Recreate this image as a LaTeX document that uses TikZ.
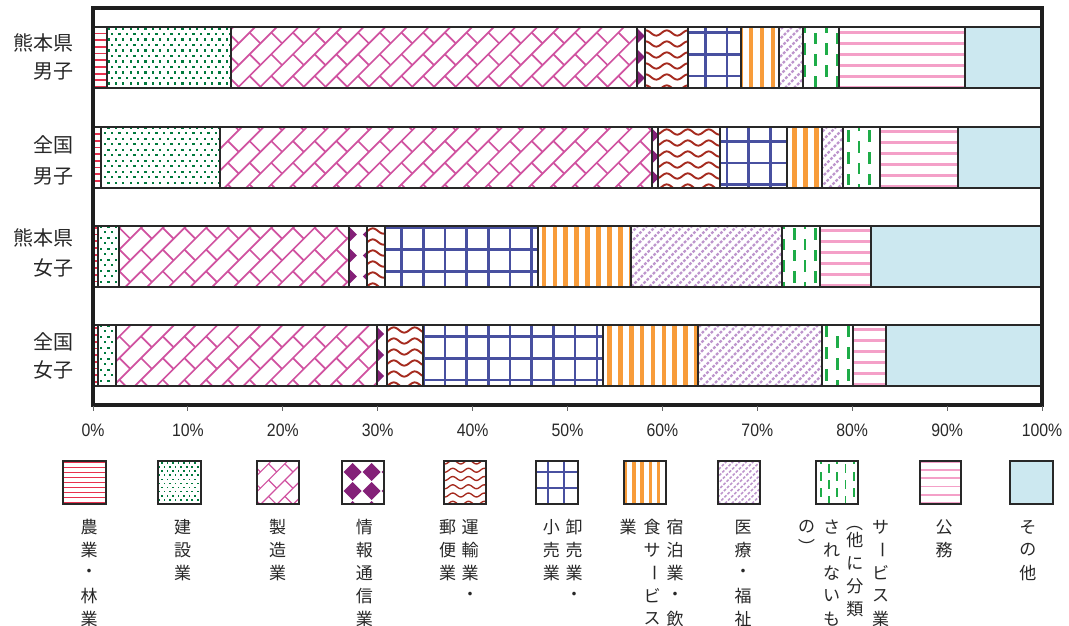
\documentclass[tikz,border=0pt]{standalone}
\usepackage{fontspec}
\usepackage{graphicx}
\newfontfamily\jp{Noto Sans CJK JP}
\newfontfamily\axf{Liberation Sans}
\definecolor{cA}{RGB}{232,48,78}
\definecolor{cB}{RGB}{0,122,61}
\definecolor{cC}{RGB}{208,82,160}
\definecolor{cD}{RGB}{132,32,120}
\definecolor{cE}{RGB}{165,42,30}
\definecolor{cF}{RGB}{72,80,160}
\definecolor{cG}{RGB}{248,156,58}
\definecolor{cH}{RGB}{190,150,205}
\definecolor{cI}{RGB}{30,172,72}
\definecolor{cJ}{RGB}{244,160,200}
\definecolor{cK}{RGB}{204,232,240}
\definecolor{edgec}{RGB}{40,40,40}
\definecolor{framec}{RGB}{30,30,30}
\definecolor{txtc}{RGB}{40,40,40}
\tikzset{
 legtxt/.style={inner sep=0pt, text=txtc, font=\fontsize{17}{17}\selectfont\jp},
 ylab/.style={inner sep=0pt, anchor=east, text=txtc, font=\fontsize{20}{20}\selectfont\jp},
 axlab/.style={inner sep=0pt, text=txtc, font=\fontsize{18}{18}\selectfont\axf},
 segedge/.style={draw=edgec, line width=2pt},
 tickline/.style={draw=black!60, line width=1pt},
 frameline/.style={draw=framec, line width=4pt},
}
\def\pp{1}\def\pw{1}
\def\dphx{0}\def\dphy{9}\def\dP{21}\def\dr{7.5}
% pattern macros: #1 x1, #2 x2, #3 y1, #4 y2
\newcommand\patA[4]{%
 \pgfmathsetmacro\zper{6.7*\pp}\pgfmathsetmacro\zlw{1.8*\pw}%
 \pgfmathtruncatemacro\kA{floor(#3/\zper)}\pgfmathtruncatemacro\kB{ceil(#4/\zper)}%
 \foreach \k in {\kA,...,\kB}{\draw[cA,line width=\zlw pt] (#1,\k*\zper) -- (#2,\k*\zper);}}
\newcommand\patB[4]{%
 \pgfmathsetmacro\zv{5.5*\pp}\pgfmathsetmacro\zh{7.4*\pp}\pgfmathsetmacro\zd{2.3*\pw}%
 \pgfmathtruncatemacro\kA{floor(#3/\zv)-1}\pgfmathtruncatemacro\kB{ceil(#4/\zv)}%
 \pgfmathtruncatemacro\mA{floor(#1/\zh)-1}\pgfmathtruncatemacro\mB{ceil(#2/\zh)}%
 \foreach \k in {\kA,...,\kB}{\foreach \m in {\mA,...,\mB}{%
 \fill[cB] ({\m*\zh+mod(\k,2)*\zh/2},{\k*\zv}) rectangle ++(\zd,\zd);}}}
\newcommand\patC[4]{%
 \pgfmathsetmacro\zT{21.7*\pp}\pgfmathsetmacro\zlw{1.7*\pw}%
 \pgfmathtruncatemacro\kA{floor((#1+#3)/\zT)}\pgfmathtruncatemacro\kB{ceil((#2+#4)/\zT)}%
 \foreach \q in {\kA,...,\kB}{\draw[cC,line width=\zlw pt] ({\q*\zT-#4},#4) -- ({\q*\zT-#3},#3);}%
 \pgfmathtruncatemacro\iA{floor(#1/\zT)-1}\pgfmathtruncatemacro\iB{ceil(#2/\zT)}%
 \pgfmathtruncatemacro\jA{floor(#3/\zT)-1}\pgfmathtruncatemacro\jB{ceil(#4/\zT)}%
 \foreach \i in {\iA,...,\iB}{\foreach \j in {\jA,...,\jB}{%
 \draw[cC,line width=\zlw pt] ({(\i+0.5)*\zT},{(\j+0.5)*\zT}) -- ({(\i+1)*\zT},{(\j+1)*\zT});}}}
\newcommand\patD[4]{%
 \foreach \i in {-1,...,3}{\foreach \j in {-1,...,4}{%
 \fill[cD] ({#1+\dphx+\i*\dP-\dr},{#3+\dphy+\j*\dP}) -- ++(\dr,-\dr) -- ++(\dr,\dr) -- ++(-\dr,\dr) -- cycle;}}}
\newcommand\patE[4]{%
 \pgfmathsetmacro\zP{11*\pp}\pgfmathsetmacro\zL{21*\pp}\pgfmathsetmacro\zAm{2.6*\pp}\pgfmathsetmacro\zlw{1.9*\pw}%
 \pgfmathtruncatemacro\kA{floor(#3/\zP)-1}\pgfmathtruncatemacro\kB{ceil(#4/\zP)+1}%
 \pgfmathtruncatemacro\ns{max(8,(#2-#1))}%
 \foreach \k in {\kA,...,\kB}{\draw[cE,line width=\zlw pt] plot[domain=#1:#2,samples=\ns] (\x,{\k*\zP+\zAm*sin(mod(\x,\zL)*360/\zL)});}}
\newcommand\patF[4]{%
 \pgfmathsetmacro\zP{21.7*\pp}\pgfmathsetmacro\zlw{2.6*\pw}%
 \pgfmathtruncatemacro\kA{floor((#1-401.5)/\zP)}\pgfmathtruncatemacro\kB{ceil((#2-401.5)/\zP)}%
 \foreach \k in {\kA,...,\kB}{\draw[cF,line width=\zlw pt] ({401.5+\k*\zP},#3) -- ({401.5+\k*\zP},#4);}%
 \pgfmathtruncatemacro\kA{floor((#3-32.7)/\zP)}\pgfmathtruncatemacro\kB{ceil((#4-32.7)/\zP)}%
 \foreach \k in {\kA,...,\kB}{\draw[cF,line width=\zlw pt] (#1,{32.7+\k*\zP}) -- (#2,{32.7+\k*\zP});}}
\newcommand\patG[4]{%
 \pgfmathsetmacro\zP{10.9*\pp}\pgfmathsetmacro\zlw{4.7*\pw}%
 \pgfmathtruncatemacro\kA{floor((#1-544)/\zP)-1}\pgfmathtruncatemacro\kB{ceil((#2-544)/\zP)+1}%
 \foreach \k in {\kA,...,\kB}{\draw[cG,line width=\zlw pt] ({544+\k*\zP},#3) -- ({544+\k*\zP},#4);}}
\newcommand\patH[4]{%
 \pgfmathsetmacro\zP{9*\pp}\pgfmathsetmacro\zlw{2.2*\pw}%
 \pgfmathtruncatemacro\kA{floor((#1+#3)/\zP)-1}\pgfmathtruncatemacro\kB{ceil((#2+#4)/\zP)+1}%
 \foreach \k in {\kA,...,\kB}{\draw[cH,line width=\zlw pt,dash pattern=on 2.8pt off 1.6pt] ({\k*\zP-#4},#4) -- ({\k*\zP-#3},#3);}}
\newcommand\patI[4]{%
 \pgfmathsetmacro\zS{10.8*\pp}\pgfmathsetmacro\zQ{21.7*\pp}\pgfmathsetmacro\zD{11.7*\pp}\pgfmathsetmacro\zw{2.8*\pw}%
 \pgfmathtruncatemacro\kA{floor((#1-805)/\zS)-1}\pgfmathtruncatemacro\kB{ceil((#2-805)/\zS)+1}%
 \pgfmathtruncatemacro\jA{floor(#3/\zQ)-1}\pgfmathtruncatemacro\jB{ceil(#4/\zQ)+1}%
 \foreach \k in {\kA,...,\kB}{\foreach \j in {\jA,...,\jB}{%
 \fill[cI] ({805+\k*\zS-\zw/2},{\j*\zQ+mod(\k,2)*\zQ/2}) rectangle ++(\zw,\zD);}}}
\newcommand\patJ[4]{%
 \pgfmathsetmacro\zP{11*\pp}\pgfmathsetmacro\zlw{2.7*\pw}%
 \pgfmathtruncatemacro\kA{floor((#3-32.7)/\zP)}\pgfmathtruncatemacro\kB{ceil((#4-32.7)/\zP)}%
 \foreach \k in {\kA,...,\kB}{\draw[cJ,line width=\zlw pt] (#1,{32.7+\k*\zP}) -- (#2,{32.7+\k*\zP});}}
\newcommand\patK[4]{\fill[cK] (#1,#3) rectangle (#2,#4);}
\newcommand\segm[5]{%
 \begin{scope}\clip (#1,#3) rectangle (#2,#4);\csname pat#5\endcsname{#1}{#2}{#3}{#4}\end{scope}%
 \draw[segedge] (#1,#3) rectangle (#2,#4);}
\newcommand\vcol[4]{%
 \foreach \ch [count=\n from 0] in {#4}{\node[legtxt] (#1-\n) at (#2,{#3+23*\n}) {\ch};}}
\newcommand\vbar{\rotatebox[origin=c]{-90}{ー}}
\begin{document}
\begin{tikzpicture}[x=1pt,y=-1pt]
\useasboundingbox (0,0) rectangle (1069,626);
\fill[white] (0,0) rectangle (1069,626);
% bars
\foreach \xa/\xb/\pq in {93/106.7/A,106.7/231/B,231/637.3/C,637.3/645/D,645/687.7/E,687.7/741/F,741/779.3/G,779.3/803.3/H,803.3/839/I,839/965/J,965/1042/K}{\segm{\xa}{\xb}{27}{88}{\pq}}
\foreach \xa/\xb/\pq in {93/100.7/A,100.7/220/B,220/651.7/C,651.7/658.3/D,658.3/720/E,720/786.7/F,786.7/821.7/G,821.7/843.3/H,843.3/880/I,880/957.7/J,957.7/1042/K}{\segm{\xa}{\xb}{126.5}{187.5}{\pq}}
\foreach \xa/\xb/\pq in {93/98.3/A,98.3/119/B,119/349.3/C,349.3/366.7/D,366.7/385/E,385/538.3/F,538.3/630.7/G,630.7/782.3/H,782.3/820/I,820/870.7/J,870.7/1042/K}{\segm{\xa}{\xb}{225.5}{286.5}{\pq}}
\foreach \xa/\xb/\pq in {93/98.3/A,98.3/115.7/B,115.7/376.7/C,376.7/386.7/D,386.7/422.7/E,422.7/603.3/F,603.3/698.3/G,698.3/822.3/H,822.3/852.7/I,852.7/886/J,886/1042/K}{\segm{\xa}{\xb}{325}{386}{\pq}}
% frame
\draw[frameline] (93,8) rectangle (1042,405);
% ticks and axis labels
\foreach \k/\lab in {0/0,1/10,2/20,3/30,4/40,5/50,6/60,7/70,8/80,9/90,10/100}{
 \pgfmathsetmacro\xx{93+94.9*\k}
 \draw[tickline] (\xx,406) -- (\xx,411);
 \node[axlab] (ax\k) at (\xx,430) {\scalebox{0.88}[1]{\lab\%}};
}
% y labels
\node[ylab] (y1a) at (74,43.3) {熊本県};
\node[ylab] (y1b) at (74,71.7) {男子};
\node[ylab] (y2a) at (74,145) {全国};
\node[ylab] (y2b) at (74,176.7) {男子};
\node[ylab] (y3a) at (74,238.3) {熊本県};
\node[ylab] (y3b) at (74,268.3) {女子};
\node[ylab] (y4a) at (74,341.7) {全国};
\node[ylab] (y4b) at (74,370) {女子};
% legend boxes
\def\pp{0.75}\def\pw{0.7}
\def\dphx{11}\def\dphy{11}\def\dP{19}\def\dr{9}
\foreach \xa/\xb/\pq in {63/105.5/A,158.4/200.8/B,256.9/298.9/C,341.6/384/D,444.2/486.2/E,536.2/578.1/F,623.8/666.1/G,718.4/760.3/H,816/857.6/I,919.5/961.4/J,1010.2/1052.5/K}{\segm{\xa}{\xb}{461}{503.5}{\pq}}
% legend texts
\vcol{la}{89}{527}{農,業,・,林,業}
\vcol{lb}{182.5}{527}{建,設,業}
\vcol{lc}{277.5}{527}{製,造,業}
\vcol{ld}{364.3}{527}{情,報,通,信,業}
\vcol{le1}{470}{527}{運,輸,業,・}
\vcol{le2}{447.7}{527}{郵,便,業}
\vcol{lf1}{574}{527}{卸,売,業,・}
\vcol{lf2}{551.3}{527}{小,売,業}
\vcol{lg1}{675}{527}{宿,泊,業,・,飲}
\vcol{lg2}{652}{527}{食,サ,\vbar,ビ,ス}
\vcol{lg3}{628}{527}{業}
\vcol{lh}{743}{527}{医,療,・,福,祉}
\vcol{li1}{880.6}{527}{サ,\vbar,ビ,ス,業}
\node[legtxt] (li2p) at (854.9,523) {\rotatebox[origin=c]{-90}{（}};
\vcol{li2}{854.9}{540}{他,に,分,類}
\vcol{li3}{831.5}{527}{さ,れ,な,い,も}
\vcol{li4}{806.7}{527}{の}
\node[legtxt] (li4p) at (806.7,547) {\rotatebox[origin=c]{-90}{）}};
\vcol{lj}{944.2}{527}{公,務}
\vcol{lk}{1027.8}{527}{そ,の,他}
\end{tikzpicture}
\end{document}
